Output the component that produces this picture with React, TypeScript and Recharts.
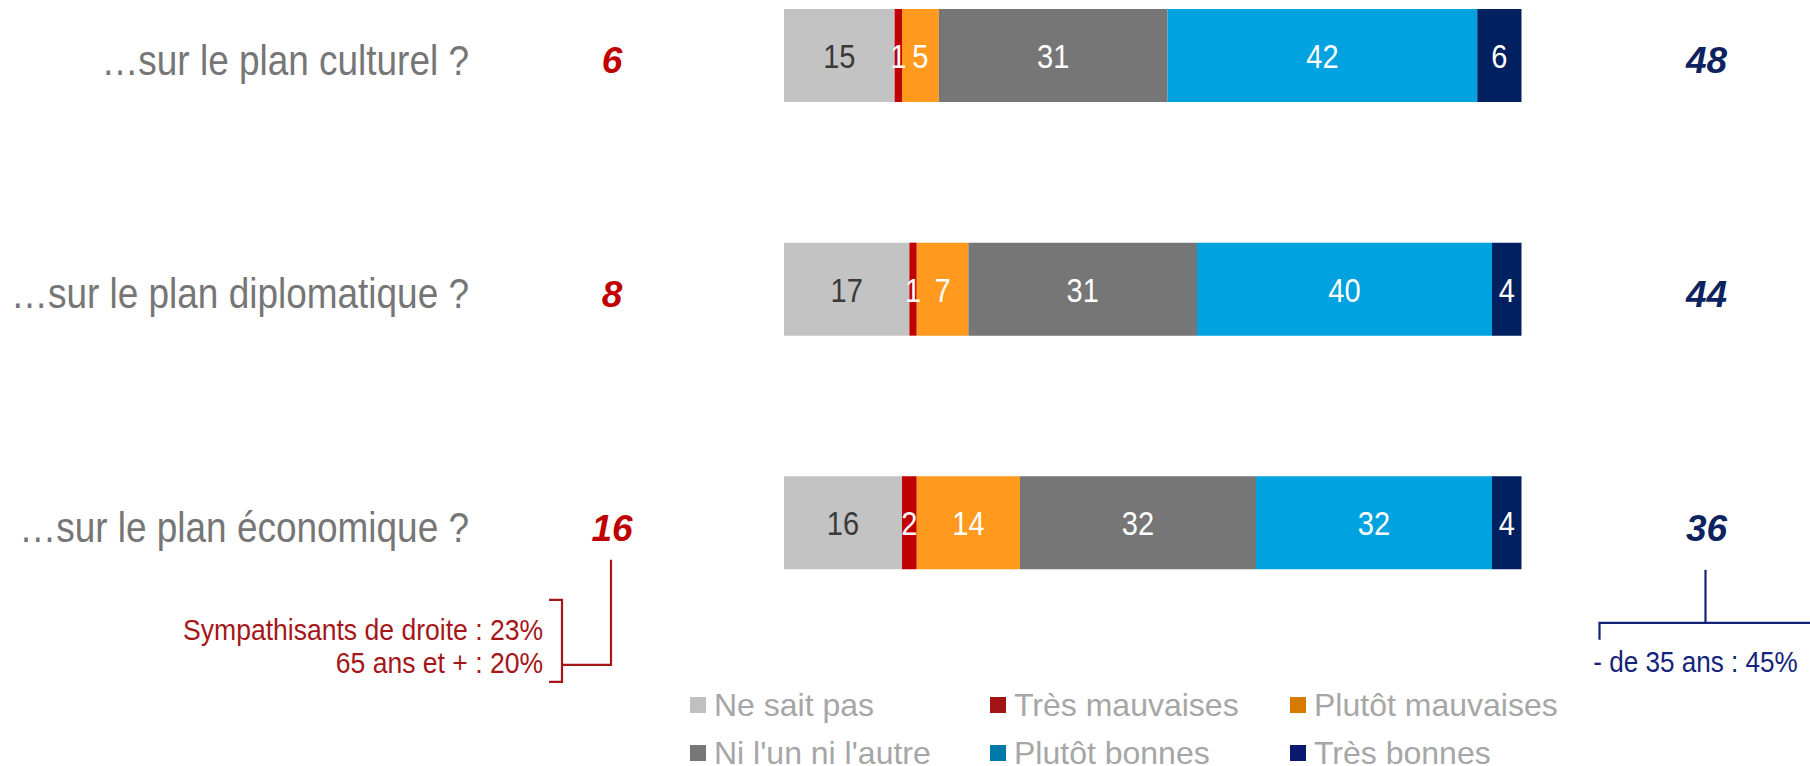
import { BarChart, Bar, XAxis, YAxis, Legend, LabelList } from "recharts";

const FONT = "'Liberation Sans', Arial, sans-serif";

const categories = [
  "…sur le plan culturel ?",
  "…sur le plan diplomatique ?",
  "…sur le plan économique ?",
];
const neSaitPas = [15, 17, 16];
const tresMauvaises = [1, 1, 2];
const plutotMauvaises = [5, 7, 14];
const niNi = [31, 31, 32];
const plutotBonnes = [42, 40, 32];
const tresBonnes = [6, 4, 4];
const totalMauvaises = [6, 8, 16];
const totalBonnes = [48, 44, 36];
const notesMauvaises = ["Sympathisants de droite : 23%", "65 ans et + : 20%"];
const notesBonnes = ["- de 35 ans : 45%"];
const noteRow = 2;

const series = [
  { key: "nsp", name: "Ne sait pas", values: neSaitPas, fill: "#c3c3c3", legend: "#c0c0c0", text: "#3a3a3a" },
  { key: "tm", name: "Très mauvaises", values: tresMauvaises, fill: "#c00000", legend: "#a31515", text: "#ffffff" },
  { key: "pm", name: "Plutôt mauvaises", values: plutotMauvaises, fill: "#ff9a1e", legend: "#d67b00", text: "#ffffff" },
  { key: "ni", name: "Ni l'un ni l'autre", values: niNi, fill: "#767676", legend: "#777777", text: "#ffffff" },
  { key: "pb", name: "Plutôt bonnes", values: plutotBonnes, fill: "#00a2df", legend: "#0079aa", text: "#ffffff" },
  { key: "tb", name: "Très bonnes", values: tresBonnes, fill: "#00205f", legend: "#0b1a6e", text: "#ffffff" },
];

const data = categories.map((cat, i) => {
  const row: Record<string, string | number> = { cat, mauv: totalMauvaises[i], bonnes: totalBonnes[i] };
  series.forEach(s => { row[s.key] = s.values[i]; });
  return row;
});

const RED = "#c00000";
const RED_NOTE = "#a5161a";
const NAVY = "#0d2360";
const NAVY_NOTE = "#14237a";

// text in the source is slightly condensed horizontally
function CText({ x, y, size, color, anchor = "middle", sx = 0.88, children }: any) {
  return (
    <text transform={`translate(${x},${y}) scale(${sx},1)`} textAnchor={anchor} dy="0.35em"
      fontSize={size} fill={color} fontFamily={FONT}>{children}</text>
  );
}

function CategoryTick(props: any) {
  const { x, y, payload } = props;
  return <CText x={x - 315} y={y + 4} size={42} color="#767676" anchor="end">{payload.value}</CText>;
}

function InBarLabel(props: any) {
  const { x, y, width, height, value, color } = props;
  return <CText x={x + width / 2} y={y + height / 2 + 1} size={33} color={color}>{value}</CText>;
}

function Total({ x, y, value, color }: any) {
  return (
    <text x={x} y={y} dy="0.35em" textAnchor="middle" fontSize={37} fontWeight="bold" fontStyle="italic"
      fill={color} fontFamily={FONT}>{value}</text>
  );
}

function MauvLabel(props: any) {
  const { x, y, height, value, index } = props;
  const cy = y + height / 2;
  return (
    <g>
      <Total x={x - 172} y={cy + 5} value={value} color={RED} />
      {index === noteRow && (
        <g>
          <path d={`M${x - 173},${cy + 37} V${cy + 142} H${x - 222}`} stroke={RED_NOTE} strokeWidth={2.2} fill="none" />
          <path d={`M${x - 235},${cy + 77} H${x - 222} V${cy + 159} H${x - 235}`} stroke={RED_NOTE} strokeWidth={2.2} fill="none" />
          {notesMauvaises.map((t, k) => (
            <CText key={k} x={x - 241} y={cy + 107 + k * 33} size={29.5} sx={0.9} color={RED_NOTE} anchor="end">{t}</CText>
          ))}
        </g>
      )}
    </g>
  );
}

function BonnesLabel(props: any) {
  const { x, y, width, height, value, index } = props;
  const x1 = x + width;
  const cy = y + height / 2;
  return (
    <g>
      <Total x={x1 + 185} y={cy + 5} value={value} color={NAVY} />
      {index === noteRow && (
        <g>
          <path d={`M${x1 + 184},${cy + 47} V${cy + 100}`} stroke={NAVY_NOTE} strokeWidth={2.2} fill="none" />
          <path d={`M${x1 + 78},${cy + 117} V${cy + 100} H${x1 + 290}`} stroke={NAVY_NOTE} strokeWidth={2.2} fill="none" />
          {notesBonnes.map((t, k) => (
            <CText key={k} x={x1 + 174} y={cy + 139 + k * 33} size={29} sx={0.9} color={NAVY_NOTE}>{t}</CText>
          ))}
        </g>
      )}
    </g>
  );
}

function LegendContent({ payload }: any) {
  const names = new Set((payload ?? []).map((p: any) => p.value));
  const items = series.filter(s => names.has(s.name));
  return (
    <div style={{ display: "grid", gridTemplateColumns: "300px 300px 300px", fontFamily: FONT }}>
      {items.map(s => (
        <div key={s.key} style={{ display: "flex", alignItems: "center", height: 48 }}>
          <span style={{ width: 16, height: 16, background: s.legend, marginRight: 8, flex: "none" }} />
          <span style={{ fontSize: 32, color: "#a6a6a6", lineHeight: "26px", whiteSpace: "nowrap" }}>{s.name}</span>
        </div>
      ))}
    </div>
  );
}

export default function App() {
  return (
    <div style={{ position: "absolute", left: 0, top: 0, width: 1810, height: 766, overflow: "hidden", background: "#fff" }}>
      <div style={{ position: "absolute", left: 0, top: -61 }}>
        <BarChart width={1810} height={827} data={data} layout="vertical" barSize={93}
          margin={{ top: 0, right: 288.5, bottom: 126, left: 484 }}>
          <XAxis type="number" domain={[0, 100]} hide />
          <YAxis type="category" dataKey="cat" width={300} axisLine={false} tickLine={false}
            tickSize={0} tickMargin={0} tick={<CategoryTick />} interval={0} />
          <Legend layout="horizontal" verticalAlign="middle" align="center" content={<LegendContent />}
            wrapperStyle={{ position: "absolute", left: 690, top: 742, width: 900, height: 96 }} />
          {series.map((s, i) => (
            <Bar key={s.key} dataKey={s.key} name={s.name} stackId="a" fill={s.fill} isAnimationActive={false}>
              <LabelList dataKey={s.key} content={(p: any) => <InBarLabel {...p} color={s.text} />} />
              {i === 0 && <LabelList dataKey="mauv" content={(p: any) => <MauvLabel {...p} />} />}
              {i === series.length - 1 && <LabelList dataKey="bonnes" content={(p: any) => <BonnesLabel {...p} />} />}
            </Bar>
          ))}
        </BarChart>
      </div>
    </div>
  );
}
